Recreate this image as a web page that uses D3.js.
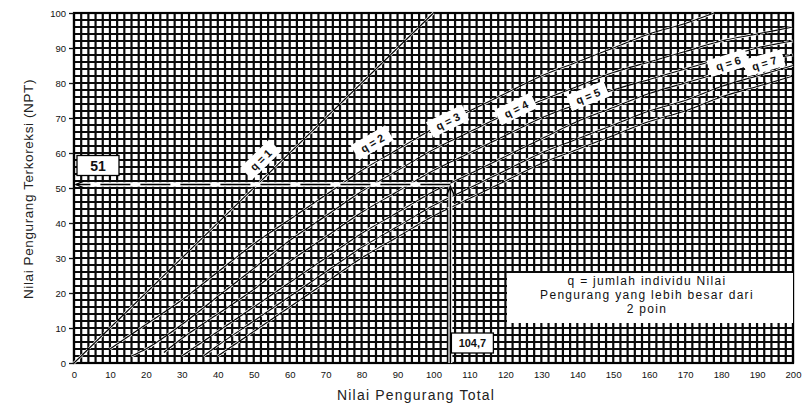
<!DOCTYPE html>
<html>
<head>
<meta charset="utf-8">
<script src="https://cdn.jsdelivr.net/npm/d3@7"></script>
<style>
  body { margin: 0; background: #fff; }
  svg { display: block; }
</style>
</head>
<body>
<div id="chart"></div>
<script>
// values (x = total deduct, y = corrected deduct)
var qNames = ['q = 1', 'q = 2', 'q = 3', 'q = 4', 'q = 5', 'q = 6', 'q = 7'];
var q1 = [[0,0],[100,100]];
var q2 = [[10,4],[20,11],[30,18],[40,26],[50,34],[60,41],[70,48],[80,55],[90,61],[100,67],[110,72],[120,77],[130,82],[140,86],[150,90],[160,94],[170,97],[178,100]];
var q3 = [[16,2],[20,4],[30,11],[40,19],[50,27],[60,35],[70,42],[80,49],[90,55],[100,61],[110,66],[120,71],[130,75],[140,79],[150,83],[160,86],[170,89],[180,92],[190,94],[200,96]];
var q4 = [[25,3],[30,7],[40,14],[50,21],[60,29],[70,36],[80,43],[90,49],[100,55],[110,60],[120,65],[130,70],[140,74],[150,78],[160,81],[170,84],[180,87],[190,90],[200,92]];
var q5 = [[30,2],[40,9],[50,16],[60,23],[70,30],[80,37],[90,43],[100,49],[110,54],[120,59],[130,64],[140,69],[150,73],[160,77],[170,80],[180,83],[190,86],[200,88]];
var q6 = [[36,2],[40,5],[50,12],[60,19],[70,26],[80,33],[90,39],[100,45],[110,50],[120,55],[130,60],[140,64],[150,68],[160,72],[170,75],[180,79],[190,82],[200,85]];
var q7 = [[40,2],[50,9],[60,16],[70,23],[80,30],[90,36],[100,42],[110,47],[120,52],[130,57],[140,61],[150,65],[160,69],[170,72],[180,76],[190,79],[200,82]];
var curves = [q1, q2, q3, q4, q5, q6, q7];
var labelX = [52, 83, 104, 123, 143, 182, 192];   // where each q label sits along its curve

var xTicks = d3.range(0, 201, 10);
var yTicks = d3.range(0, 101, 10);

var tdv = 104.7, cdv = 51;
var noteLines = ['q = jumlah individu Nilai', 'Pengurang yang lebih besar dari', '2 poin'];

var W = 808, H = 408;
var margin = {top: 13, right: 15, bottom: 45, left: 74};
var font = 'Liberation Sans, Arial, sans-serif';

var svg = d3.select('#chart').append('svg')
    .attr('width', W).attr('height', H)
    .style('font-family', font);

var x = d3.scaleLinear().domain([0, 200]).range([margin.left, W - margin.right]);
var y = d3.scaleLinear().domain([0, 100]).range([H - margin.bottom, margin.top]);

// dense grid every 2 units
var grid = svg.append('g').attr('class', 'grid').attr('stroke', '#0a0a0a').attr('stroke-width', 2.2);
grid.selectAll('line.v').data(d3.range(0, 201, 2)).enter().append('line')
    .attr('x1', function(d){ return x(d); }).attr('x2', function(d){ return x(d); })
    .attr('y1', y(0)).attr('y2', y(100));
grid.selectAll('line.h').data(d3.range(0, 101, 2)).enter().append('line')
    .attr('y1', function(d){ return y(d); }).attr('y2', function(d){ return y(d); })
    .attr('x1', x(0)).attr('x2', x(200));

svg.append('rect')
    .attr('x', x(0)).attr('y', y(100))
    .attr('width', x(200) - x(0)).attr('height', y(0) - y(100))
    .attr('fill', 'none').attr('stroke', '#000').attr('stroke-width', 2.2);

var line = d3.line()
    .x(function(d){ return x(d[0]); })
    .y(function(d){ return y(d[1]); })
    .curve(d3.curveMonotoneX);

var cg = svg.append('g').attr('class', 'curves');
cg.selectAll('path.halo').data(curves).enter().append('path')
    .attr('d', line).attr('fill', 'none').attr('stroke', '#fff').attr('stroke-width', 2.6)
    .attr('stroke-dasharray', '5,2');
cg.selectAll('path.ln').data(curves).enter().append('path')
    .attr('d', line).attr('fill', 'none').attr('stroke', '#000').attr('stroke-width', 1.1);

// arrow marker
var defs = svg.append('defs');
defs.append('marker').attr('id', 'arr')
    .attr('viewBox', '0 0 10 10').attr('refX', 9).attr('refY', 5)
    .attr('markerWidth', 7).attr('markerHeight', 7).attr('orient', 'auto-start-reverse')
    .append('path').attr('d', 'M0,1 L9,5 L0,9').attr('fill', 'none').attr('stroke', '#000').attr('stroke-width', 1.4);

// reading lines for the worked example
var ann = svg.append('g').attr('class', 'annot');
ann.append('line')
    .attr('x1', x(tdv)).attr('x2', x(0) + 2).attr('y1', y(cdv)).attr('y2', y(cdv))
    .attr('stroke', '#fff').attr('stroke-width', 4.5);
ann.append('line')
    .attr('x1', x(tdv)).attr('x2', x(0) + 2).attr('y1', y(cdv)).attr('y2', y(cdv))
    .attr('stroke', '#000').attr('stroke-width', 1.3).attr('stroke-dasharray', '30,10')
    .attr('marker-end', 'url(#arr)');
ann.append('line')
    .attr('x1', x(tdv)).attr('x2', x(tdv)).attr('y1', y(0)).attr('y2', y(cdv) + 2)
    .attr('stroke', '#fff').attr('stroke-width', 4);
ann.append('line')
    .attr('x1', x(tdv)).attr('x2', x(tdv)).attr('y1', y(0)).attr('y2', y(cdv) + 2)
    .attr('stroke', '#000').attr('stroke-width', 1.5)
    .attr('marker-end', 'url(#arr)');

function valueBox(cx, cy, w, h, txt, fs) {
    ann.append('rect').attr('x', cx - w / 2).attr('y', cy - h / 2).attr('width', w).attr('height', h)
        .attr('fill', '#fff').attr('stroke', '#000').attr('stroke-width', 1.3);
    ann.append('text').attr('x', cx).attr('y', cy).attr('dy', '0.36em')
        .attr('text-anchor', 'middle').attr('font-size', fs).attr('font-weight', 'bold').attr('fill', '#111')
        .text(txt);
}
valueBox(x(0) + 24, y(cdv) - 19, 42, 20, String(cdv), 14);
valueBox(x(tdv) + 22, y(0) - 20, 42, 20, String(tdv).replace('.', ','), 11);

// note box
var nb = svg.append('g');
nb.append('rect').attr('x', 507).attr('y', 273).attr('width', x(200) - 507).attr('height', 50).attr('fill', '#fff');
nb.selectAll('text').data(noteLines).enter().append('text')
    .attr('x', 647).attr('y', function(d, i){ return 285 + i * 14; })
    .attr('text-anchor', 'middle').attr('font-size', 12).attr('letter-spacing', 1.3).attr('fill', '#111')
    .text(function(d){ return d; });

// q labels along the curves
var lineFn = curves.map(function(c){
    return function(v){
        for (var i = 1; i < c.length; i++) {
            if (v <= c[i][0]) {
                var t = (v - c[i-1][0]) / (c[i][0] - c[i-1][0]);
                return c[i-1][1] + t * (c[i][1] - c[i-1][1]);
            }
        }
        return c[c.length-1][1];
    };
});
var lg = svg.append('g').attr('class', 'qlabels');
qNames.forEach(function(name, i){
    var v = labelX[i], f = lineFn[i];
    var px = x(v), py = y(f(v) + 6);
    var ang = Math.atan2(y(f(v + 3)) - y(f(v - 3)), x(v + 3) - x(v - 3)) * 180 / Math.PI;
    var g = lg.append('g').attr('transform', 'translate(' + px + ',' + py + ') rotate(' + ang + ')');
    g.append('rect').attr('x', -20).attr('y', -9).attr('width', 40).attr('height', 17).attr('fill', '#fff');
    g.append('text').attr('text-anchor', 'middle').attr('dy', '0.35em')
        .attr('font-size', 11).attr('font-weight', 'bold').attr('fill', '#111').text(name);
});

// axes
var xAxis = svg.append('g').attr('transform', 'translate(0,' + y(0) + ')')
    .call(d3.axisBottom(x).tickValues(xTicks).tickSize(0).tickPadding(8));
var yAxis = svg.append('g').attr('transform', 'translate(' + x(0) + ',0)')
    .call(d3.axisLeft(y).tickValues(yTicks).tickSize(5).tickPadding(3));
[xAxis, yAxis].forEach(function(a){
    a.select('.domain').remove();
    a.selectAll('text').attr('font-size', 9.5).attr('font-family', font).attr('fill', '#111');
    a.selectAll('line').attr('stroke', '#111').attr('stroke-width', 1.3);
});

svg.append('text')
    .attr('x', 416).attr('y', 400)
    .attr('text-anchor', 'middle').attr('font-size', 14).attr('letter-spacing', 1.2).attr('fill', '#222')
    .text('Nilai Pengurang Total');
svg.append('text')
    .attr('transform', 'translate(33,' + 189 + ') rotate(-90)')
    .attr('text-anchor', 'middle').attr('font-size', 13.5).attr('letter-spacing', 0.6).attr('fill', '#222')
    .text('Nilai Pengurang Terkoreksi (NPT)');
</script>
</body>
</html>
